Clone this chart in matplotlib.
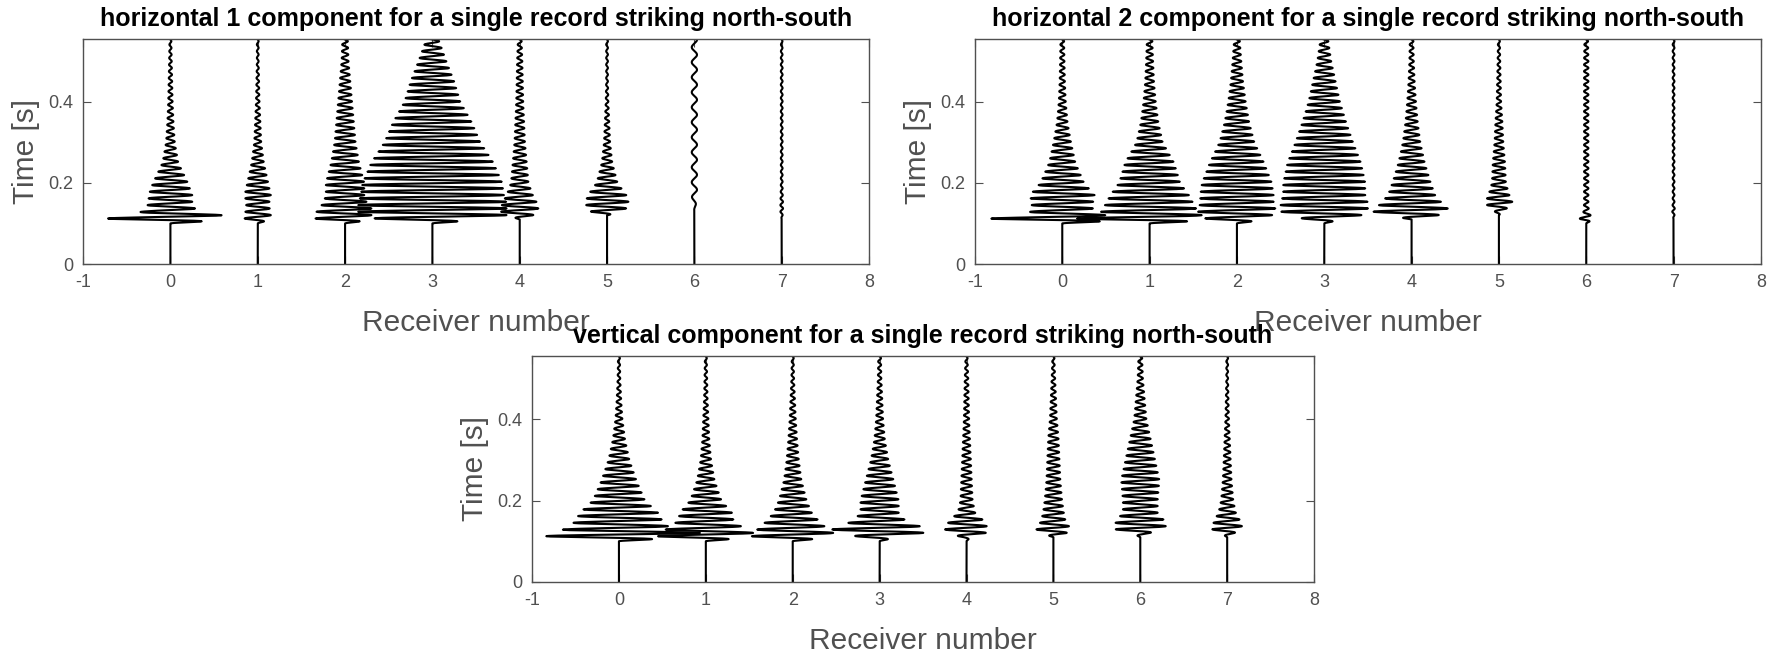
import numpy as np
import matplotlib
matplotlib.use('Agg')
import matplotlib.pyplot as plt

plt.rcParams['font.family'] = ['Liberation Sans', 'DejaVu Sans']

# receiver positions and time axis
receivers = [0, 1, 2, 3, 4, 5, 6, 7]
xticks = [-1, 0, 1, 2, 3, 4, 5, 6, 7, 8]
yticks = [0, 0.2, 0.4]
t_max = 0.555

knot_times = [0.10, 0.11, 0.12, 0.13, 0.15, 0.17, 0.20, 0.25, 0.30, 0.35, 0.40, 0.45, 0.50, 0.56]

# horizontal 1 component
h1_env = [
    [0, 0.75, 0.60, 0.30, 0.25, 0.25, 0.20, 0.09, 0.05, 0.035, 0.025, 0.02, 0.015, 0.01],
    [0, 0.15, 0.15, 0.14, 0.13, 0.15, 0.12, 0.07, 0.04, 0.03, 0.02, 0.015, 0.01, 0.01],
    [0, 0.35, 0.30, 0.33, 0.25, 0.22, 0.22, 0.16, 0.12, 0.10, 0.08, 0.06, 0.04, 0.03],
    [0, 0.60, 0.85, 0.85, 0.85, 0.82, 0.80, 0.70, 0.55, 0.45, 0.32, 0.25, 0.16, 0.06],
    [0, 0, 0.15, 0.22, 0.20, 0.15, 0.10, 0.08, 0.06, 0.05, 0.04, 0.035, 0.03, 0.02],
    [0, 0, 0, 0.20, 0.25, 0.22, 0.12, 0.06, 0.035, 0.025, 0.015, 0.01, 0.01, 0.01],
    [0, 0, 0, 0, 0.02, 0.03, 0.03, 0.03, 0.03, 0.03, 0.03, 0.03, 0.03, 0.03],
    [0, 0, 0.01, 0.015, 0.015, 0.012, 0.01, 0.01, 0.01, 0.01, 0.01, 0.01, 0.01, 0.008],
]
h1_period = [0.0165, 0.0165, 0.0165, 0.0165, 0.0165, 0.0165, 0.037, 0.0165]

# horizontal 2 component
h2_env = [
    [0, 0.90, 0.50, 0.35, 0.35, 0.37, 0.25, 0.15, 0.10, 0.06, 0.04, 0.03, 0.025, 0.02],
    [0, 0.90, 0.60, 0.55, 0.50, 0.45, 0.35, 0.28, 0.15, 0.10, 0.07, 0.05, 0.04, 0.03],
    [0, 0.35, 0.40, 0.45, 0.42, 0.42, 0.40, 0.31, 0.20, 0.14, 0.10, 0.07, 0.05, 0.03],
    [0, 0.20, 0.42, 0.50, 0.50, 0.47, 0.47, 0.42, 0.33, 0.25, 0.18, 0.13, 0.08, 0.04],
    [0, 0, 0.30, 0.45, 0.35, 0.27, 0.22, 0.15, 0.10, 0.07, 0.05, 0.035, 0.025, 0.02],
    [0, 0, 0, 0.05, 0.16, 0.12, 0.08, 0.07, 0.05, 0.04, 0.025, 0.02, 0.015, 0.01],
    [0, 0.08, 0.05, 0.03, 0.025, 0.025, 0.025, 0.025, 0.025, 0.025, 0.025, 0.025, 0.025, 0.02],
    [0, 0, 0.01, 0.015, 0.01, 0.01, 0.01, 0.01, 0.01, 0.01, 0.01, 0.01, 0.01, 0.01],
]
h2_period = [0.0165, 0.0165, 0.0165, 0.0165, 0.0165, 0.0165, 0.0165, 0.0165]

# vertical component
v_env = [
    [0, 0.80, 0.95, 0.60, 0.50, 0.45, 0.30, 0.20, 0.12, 0.07, 0.04, 0.025, 0.015, 0.01],
    [0, 0.55, 0.55, 0.45, 0.32, 0.30, 0.18, 0.10, 0.06, 0.04, 0.03, 0.02, 0.015, 0.01],
    [0, 0.47, 0.47, 0.40, 0.30, 0.22, 0.16, 0.10, 0.07, 0.05, 0.035, 0.025, 0.015, 0.01],
    [0, 0.20, 0.50, 0.55, 0.30, 0.22, 0.22, 0.16, 0.10, 0.06, 0.04, 0.03, 0.02, 0.015],
    [0, 0.05, 0.22, 0.25, 0.20, 0.10, 0.07, 0.06, 0.05, 0.04, 0.03, 0.025, 0.02, 0.01],
    [0, 0, 0.15, 0.20, 0.14, 0.12, 0.10, 0.08, 0.07, 0.06, 0.04, 0.03, 0.02, 0.01],
    [0, 0, 0.10, 0.30, 0.28, 0.20, 0.20, 0.22, 0.17, 0.12, 0.07, 0.05, 0.03, 0.02],
    [0, 0, 0.08, 0.18, 0.15, 0.10, 0.07, 0.05, 0.04, 0.03, 0.02, 0.015, 0.01, 0.01],
]
v_period = [0.0165, 0.0165, 0.0165, 0.0165, 0.0165, 0.0165, 0.0165, 0.0165]

titles = [
    'horizontal 1 component for a single record striking north-south',
    'horizontal 2 component for a single record striking north-south',
    'vertical component for a single record striking north-south',
]

fig = plt.figure(figsize=(17.83, 6.54), dpi=100)
ax1 = fig.add_axes([0.0466, 0.5963, 0.4408, 0.344])
ax2 = fig.add_axes([0.5468, 0.5963, 0.4408, 0.344])
ax3 = fig.add_axes([0.2984, 0.1101, 0.4386, 0.3456])

grey = '#505050'
t = np.arange(0, t_max + 0.001, 0.0004)

for ax, env, period, title in zip([ax1, ax2, ax3], [h1_env, h2_env, v_env],
                                  [h1_period, h2_period, v_period], titles):
    for r, amps, p in zip(receivers, env, period):
        a = np.interp(t, knot_times, amps, left=0)
        x = r + a * np.sin(2 * np.pi * np.clip(t - knot_times[0], 0, None) / p)
        ax.plot(x, t, color='black', lw=1.5)
    ax.set_xlim(-1, 8)
    ax.set_ylim(0, t_max)
    ax.set_xticks(xticks)
    ax.set_xticklabels([str(v) for v in xticks])
    ax.set_yticks(yticks)
    ax.set_yticklabels(['0', '0.2', '0.4'])
    ax.tick_params(direction='in', top=True, right=True, length=5.8, width=0.8,
                   color=grey, labelcolor=grey, labelsize=13, pad=7)
    for s in ax.spines.values():
        s.set_color(grey)
        s.set_linewidth(1.0)
    ax.set_xlabel('Receiver number', fontsize=21.5, color=grey, va='center')
    ax.xaxis.set_label_coords(0.5, -0.26)
    ax.set_ylabel('Time [s]', fontsize=21.5, color=grey, va='center')
    ax.yaxis.set_label_coords(-0.073, 0.5)
    ax.text(0.5, 1.088, title, transform=ax.transAxes, ha='center', va='center',
            fontsize=18, fontweight='bold', color='black')

fig.savefig('out.png', dpi=100)
